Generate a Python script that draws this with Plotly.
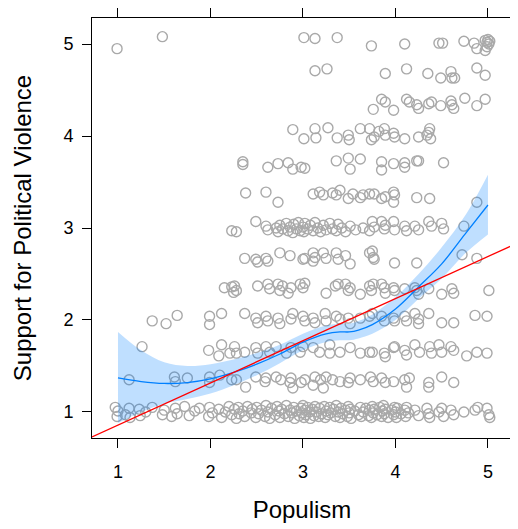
import numpy as np
import plotly.graph_objects as go

# ---- data (Populism, Support for Political Violence) ----
row_5_00 = [(0.99, 4.95), (1.48, 5.08), (3.01, 5.07), (3.13, 5.06), (3.37, 5.07), (3.74, 4.98),
            (4.10, 5.00), (4.47, 5.01), (4.51, 5.01), (4.74, 5.03), (4.85, 5.01), (4.88, 4.95),
            (4.97, 5.04), (4.99, 5.02), (4.97, 4.93), (5.00, 5.05), (5.01, 5.00), (4.99, 4.97), (5.02, 5.03)]
row_4_67 = [(3.13, 4.71), (3.26, 4.73), (3.89, 4.68), (4.12, 4.73), (4.35, 4.68), (4.49, 4.63),
            (4.60, 4.70), (4.61, 4.63), (4.64, 4.63), (4.88, 4.74), (4.97, 4.66)]
row_4_33 = [(3.76, 4.29), (3.85, 4.40), (3.89, 4.37), (3.98, 4.28), (4.12, 4.40), (4.15, 4.37),
            (4.23, 4.34), (4.25, 4.30), (4.36, 4.35), (4.39, 4.37), (4.49, 4.33), (4.60, 4.38),
            (4.61, 4.34), (4.63, 4.30), (4.75, 4.41), (4.88, 4.33), (4.97, 4.40)]
row_4_00 = [(2.89, 4.07), (3.01, 3.97), (3.13, 4.08), (3.14, 3.98), (3.27, 4.09), (3.37, 3.98),
            (3.49, 4.01), (3.50, 3.96), (3.62, 4.08), (3.72, 4.08), (3.74, 3.96), (3.77, 3.99),
            (3.82, 4.05), (3.88, 4.08), (3.89, 4.01), (3.98, 4.03), (3.99, 3.99), (4.10, 3.97),
            (4.25, 3.99), (4.34, 4.01), (4.37, 4.08), (4.38, 3.97), (4.36, 4.04)]
row_3_67 = [(2.35, 3.72), (2.35, 3.69), (2.62, 3.66), (2.73, 3.70), (2.84, 3.71), (2.89, 3.64),
            (2.98, 3.66), (3.02, 3.65), (3.36, 3.73), (3.49, 3.76), (3.51, 3.64), (3.62, 3.75),
            (3.85, 3.72), (3.85, 3.63), (3.98, 3.70), (4.10, 3.71), (4.10, 3.66), (4.23, 3.73),
            (4.25, 3.73), (4.52, 3.71)]
row_3_33 = [(2.38, 3.38), (2.60, 3.39), (2.73, 3.28), (3.11, 3.37), (3.18, 3.39), (3.22, 3.36),
            (3.32, 3.38), (3.36, 3.36), (3.40, 3.41), (3.49, 3.32), (3.54, 3.37), (3.62, 3.33),
            (3.65, 3.36), (3.72, 3.37), (3.77, 3.37), (3.85, 3.32), (3.89, 3.34), (3.98, 3.39),
            (3.99, 3.36), (3.98, 3.28), (4.23, 3.33), (4.37, 3.32), (4.88, 3.28)]
row_3_00 = [(2.23, 2.97), (2.28, 2.96), (2.49, 3.07), (2.60, 3.02), (2.62, 2.98), (2.71, 3.00),
            (2.73, 2.96), (2.75, 3.03), (2.78, 2.99), (2.82, 3.05), (2.84, 2.97), (2.86, 3.01),
            (2.89, 2.95), (2.90, 3.04), (2.93, 2.99), (2.95, 3.06), (2.97, 2.97), (3.00, 3.01),
            (3.01, 2.96), (3.02, 3.05), (3.05, 2.99), (3.08, 3.03), (3.11, 2.97), (3.13, 3.06),
            (3.16, 3.00), (3.19, 2.96), (3.22, 3.03), (3.25, 2.98), (3.29, 3.05), (3.32, 2.99),
            (3.36, 2.97), (3.38, 3.04), (3.42, 3.00), (3.46, 2.96), (3.51, 3.02), (3.57, 2.98),
            (3.65, 3.00), (3.72, 2.97), (3.75, 3.07), (3.77, 3.01), (3.85, 3.07), (3.88, 2.99),
            (3.89, 3.03), (3.98, 3.07), (3.99, 2.98), (4.10, 3.02), (4.12, 2.97), (4.21, 3.02),
            (4.25, 2.98), (4.36, 3.07), (4.39, 3.02), (4.50, 3.05), (4.52, 2.99), (4.74, 3.02)]
row_2_67 = [(2.37, 2.67), (2.49, 2.66), (2.51, 2.63), (2.60, 2.67), (2.62, 2.64), (2.75, 2.73),
            (2.86, 2.70), (3.00, 2.66), (3.02, 2.67), (3.11, 2.73), (3.13, 2.68), (3.11, 2.64),
            (3.22, 2.73), (3.25, 2.67), (3.36, 2.73), (3.38, 2.66), (3.46, 2.70), (3.51, 2.61),
            (3.72, 2.73), (3.76, 2.68), (3.75, 2.75), (3.77, 2.66), (3.99, 2.62), (4.23, 2.62),
            (4.72, 2.71), (4.88, 2.67)]
row_2_33 = [(2.15, 2.35), (2.23, 2.36), (2.25, 2.30), (2.26, 2.37), (2.28, 2.32), (2.51, 2.37),
            (2.62, 2.39), (2.64, 2.34), (2.73, 2.39), (2.75, 2.32), (2.78, 2.37), (2.84, 2.29),
            (2.87, 2.35), (2.97, 2.39), (3.00, 2.35), (3.02, 2.40), (3.25, 2.29), (3.35, 2.37),
            (3.38, 2.39), (3.46, 2.39), (3.49, 2.32), (3.51, 2.35), (3.62, 2.28), (3.72, 2.37),
            (3.74, 2.32), (3.76, 2.39), (3.85, 2.39), (3.88, 2.35), (3.89, 2.29), (3.98, 2.35),
            (3.99, 2.32), (4.10, 2.34), (4.21, 2.35), (4.23, 2.32), (4.25, 2.28), (4.36, 2.34),
            (4.50, 2.28), (4.61, 2.34), (4.63, 2.29), (5.01, 2.32)]
row_2_00 = [(1.37, 1.99), (1.52, 1.96), (1.64, 2.05), (1.99, 2.04), (1.99, 1.95), (2.12, 2.07),
            (2.37, 2.07), (2.49, 2.02), (2.51, 1.97), (2.60, 2.04), (2.62, 1.99), (2.73, 2.02),
            (2.75, 1.96), (2.87, 2.01), (2.89, 2.07), (3.00, 2.04), (3.02, 1.99), (3.11, 2.02),
            (3.13, 1.97), (3.24, 2.07), (3.25, 1.99), (3.36, 2.04), (3.40, 2.01), (3.49, 2.02),
            (3.51, 1.96), (3.62, 2.02), (3.72, 2.04), (3.75, 2.07), (3.85, 2.04), (3.88, 1.99),
            (3.98, 2.02), (3.99, 1.99), (4.10, 2.04), (4.12, 1.99), (4.21, 2.07), (4.25, 2.01),
            (4.25, 1.96), (4.36, 2.07), (4.50, 1.97), (4.63, 1.97), (4.86, 2.05), (4.99, 2.04)]
row_1_67 = [(1.26, 1.71), (1.98, 1.67), (2.09, 1.61), (2.12, 1.73), (2.21, 1.64), (2.26, 1.71),
            (2.28, 1.64), (2.37, 1.65), (2.49, 1.70), (2.51, 1.64), (2.60, 1.71), (2.64, 1.65),
            (2.71, 1.71), (2.82, 1.64), (2.87, 1.70), (2.97, 1.65), (3.00, 1.71), (3.11, 1.70),
            (3.18, 1.65), (3.29, 1.73), (3.29, 1.64), (3.40, 1.65), (3.51, 1.70), (3.62, 1.64),
            (3.72, 1.65), (3.75, 1.65), (3.88, 1.64), (3.89, 1.60), (3.98, 1.70), (3.99, 1.71),
            (4.10, 1.67), (4.12, 1.62), (4.21, 1.73), (4.26, 1.65), (4.37, 1.71), (4.39, 1.64),
            (4.47, 1.73), (4.50, 1.65), (4.60, 1.71), (4.63, 1.67), (4.77, 1.61), (4.88, 1.65),
            (4.99, 1.64)]
row_1_33 = [(1.12, 1.35), (1.61, 1.38), (1.62, 1.33), (1.75, 1.37), (1.99, 1.38), (1.99, 1.32),
            (2.10, 1.40), (2.23, 1.35), (2.28, 1.35), (2.38, 1.27), (2.49, 1.38), (2.59, 1.33),
            (2.60, 1.37), (2.71, 1.38), (2.76, 1.35), (2.86, 1.32), (2.87, 1.37), (2.89, 1.26),
            (2.98, 1.32), (3.02, 1.35), (3.11, 1.29), (3.13, 1.38), (3.19, 1.35), (3.22, 1.26),
            (3.25, 1.38), (3.32, 1.35), (3.40, 1.33), (3.49, 1.32), (3.51, 1.37), (3.62, 1.35),
            (3.73, 1.38), (3.76, 1.33), (3.85, 1.37), (3.89, 1.32), (3.98, 1.33), (4.10, 1.35),
            (4.12, 1.27), (4.15, 1.37), (4.36, 1.32), (4.36, 1.27), (4.50, 1.38), (4.63, 1.32)]
row_1_00 = [(0.97, 1.05), (0.99, 0.95), (1.00, 1.01), (1.08, 0.97), (1.12, 1.04), (1.13, 0.94),
            (1.23, 1.03), (1.24, 0.96), (1.30, 1.00), (1.37, 1.05), (1.48, 0.97), (1.50, 1.02),
            (1.58, 0.95), (1.62, 1.04), (1.64, 0.98), (1.72, 1.06), (1.77, 0.96), (1.83, 1.01),
            (1.88, 1.04), (1.98, 0.95), (1.99, 1.05), (2.02, 0.99), (2.09, 1.03), (2.12, 0.94),
            (2.16, 1.00), (2.20, 1.06), (2.23, 0.97), (2.26, 1.03), (2.28, 0.93), (2.30, 1.05),
            (2.31, 0.98), (2.35, 1.01), (2.37, 0.95), (2.40, 1.06), (2.44, 0.99), (2.45, 1.03),
            (2.49, 0.94), (2.50, 1.05), (2.52, 0.98), (2.55, 1.02), (2.59, 0.95), (2.60, 1.07),
            (2.62, 1.00), (2.64, 0.93), (2.66, 1.04), (2.70, 0.97), (2.72, 1.06), (2.74, 1.01),
            (2.75, 0.94), (2.77, 1.03), (2.80, 0.98), (2.82, 1.07), (2.84, 0.95), (2.86, 1.02),
            (2.88, 0.99), (2.90, 1.05), (2.91, 0.93), (2.93, 1.01), (2.96, 0.96), (2.98, 1.04),
            (2.99, 0.99), (3.00, 1.07), (3.01, 0.94), (3.02, 1.02), (3.03, 0.97), (3.05, 1.05),
            (3.07, 1.00), (3.08, 0.93), (3.10, 1.03), (3.12, 0.96), (3.13, 1.06), (3.14, 1.00),
            (3.17, 0.95), (3.18, 1.04), (3.20, 0.98), (3.23, 1.06), (3.24, 0.94), (3.25, 1.01),
            (3.27, 0.97), (3.29, 1.05), (3.30, 0.99), (3.33, 1.03), (3.35, 0.95), (3.36, 1.07),
            (3.38, 1.00), (3.40, 0.94), (3.41, 1.04), (3.43, 0.98), (3.46, 1.02), (3.48, 0.95),
            (3.49, 1.06), (3.50, 0.99), (3.51, 1.03), (3.52, 0.93), (3.56, 1.01), (3.60, 0.97),
            (3.62, 1.05), (3.63, 0.95), (3.65, 1.00), (3.68, 1.04), (3.71, 0.96), (3.72, 1.02),
            (3.74, 0.94), (3.75, 1.06), (3.76, 0.99), (3.77, 1.03), (3.80, 0.97), (3.83, 1.05),
            (3.85, 0.95), (3.86, 1.01), (3.87, 1.07), (3.88, 0.98), (3.89, 1.03), (3.92, 0.94),
            (3.96, 1.02), (3.98, 0.97), (3.99, 1.05), (4.00, 1.00), (4.01, 0.94), (4.02, 1.04),
            (4.06, 0.98), (4.10, 1.02), (4.11, 0.95), (4.12, 1.05), (4.14, 0.99), (4.21, 1.02),
            (4.25, 0.96), (4.34, 1.04), (4.36, 0.98), (4.37, 0.94), (4.47, 1.00), (4.50, 1.04),
            (4.52, 0.95), (4.60, 1.02), (4.63, 0.97), (4.74, 1.00), (4.86, 1.02), (4.89, 1.05),
            (4.99, 1.04), (5.01, 0.97), (5.02, 0.94)]

# loess smooth with confidence band
smooth_x = [1.0, 1.25, 1.5, 1.75, 2.0, 2.25, 2.5, 2.75, 3.0, 3.25, 3.4, 3.5, 3.6, 3.75, 4.0, 4.25, 4.5, 4.75, 5.0]
smooth_fit = [1.37, 1.33, 1.31, 1.32, 1.36, 1.43, 1.52, 1.63, 1.76, 1.85, 1.87, 1.87, 1.89, 1.95, 2.12, 2.36, 2.61, 2.93, 3.25]
smooth_lo = [0.88, 1.00, 1.09, 1.14, 1.20, 1.29, 1.40, 1.53, 1.67, 1.76, 1.78, 1.78, 1.80, 1.85, 2.00, 2.23, 2.45, 2.72, 2.93]
smooth_hi = [1.87, 1.67, 1.54, 1.50, 1.52, 1.57, 1.64, 1.73, 1.85, 1.94, 1.96, 1.96, 1.99, 2.06, 2.25, 2.50, 2.79, 3.13, 3.58]

# linear regression line
lm_intercept = 0.40
lm_slope = 0.458

x_range = [0.719, 5.26]
y_range = [0.717, 5.283]
tick_vals = [1, 2, 3, 4, 5]
tick_text = ["1", "2", "3", "4", "5"]

rows = [row_5_00, row_4_67, row_4_33, row_4_00, row_3_67, row_3_33, row_3_00,
        row_2_67, row_2_33, row_2_00, row_1_67, row_1_33, row_1_00]
pts = [p for r in rows for p in r]
px = [p[0] for p in pts]
py = [p[1] for p in pts]

FONT = "Liberation Sans, Arial, sans-serif"

fig = go.Figure()
fig.add_trace(go.Scatter(
    x=px, y=py, mode="markers",
    marker=dict(symbol="circle-open", size=10, color="#A9A9A9", line=dict(width=1.4, color="#A9A9A9")),
    hoverinfo="skip", showlegend=False))

fig.add_trace(go.Scatter(x=smooth_x, y=smooth_lo, mode="lines", line=dict(width=0, shape="spline"),
                         showlegend=False, hoverinfo="skip"))
fig.add_trace(go.Scatter(x=smooth_x, y=smooth_hi, mode="lines", line=dict(width=0, shape="spline"),
                         fill="tonexty", fillcolor="rgba(0,128,255,0.25)", showlegend=False, hoverinfo="skip"))
fig.add_trace(go.Scatter(x=smooth_x, y=smooth_fit, mode="lines",
                         line=dict(color="#0080FF", width=1.3, shape="spline"), showlegend=False))

lx = np.array(x_range)
fig.add_trace(go.Scatter(x=lx, y=lm_intercept + lm_slope * lx, mode="lines",
                         line=dict(color="#FF0000", width=1.3), showlegend=False))

axis_common = dict(
    showgrid=False, zeroline=False, showline=True, linecolor="black", linewidth=1,
    mirror="ticks", ticks="outside", ticklen=9, tickwidth=1, tickcolor="black",
    tickvals=tick_vals, ticktext=tick_text, automargin=False,
    tickfont=dict(family=FONT, size=18, color="black"),
)
fig.update_xaxes(range=x_range, ticklabelstandoff=8,
                 title=dict(text="Populism", standoff=20, font=dict(family=FONT, size=24, color="black")),
                 **axis_common)
fig.update_yaxes(range=y_range, ticklabelstandoff=5,
                 title=dict(text="Support for Political Violence", standoff=24,
                            font=dict(family=FONT, size=24, color="black")),
                 **axis_common)

# the page body has an 8px margin, so the figure is offset by 8px
fig.update_layout(
    width=510, height=521,
    margin=dict(l=84, r=6, t=10, b=91),
    plot_bgcolor="white", paper_bgcolor="white",
    showlegend=False,
)
fig.write_html("out.html")
